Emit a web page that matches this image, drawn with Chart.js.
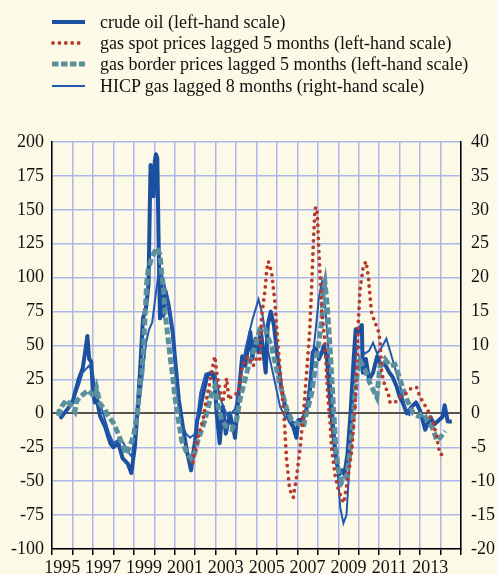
<!DOCTYPE html>
<html>
<head>
<meta charset="utf-8">
<script src="https://cdn.jsdelivr.net/npm/chart.js@4"></script>
<style>
  body { margin: 0; background: #fdf9e7; }
  #wrap { position: relative; width: 497px; height: 574px; }
  #chart { position: absolute; left: 0; top: 0; }
  .row { position: absolute; left: 51px; height: 20px; white-space: nowrap;
         font-family: 'Liberation Serif', serif; font-size: 18px; color: #111; }
  .row svg { position: absolute; left: 0; top: 0; }
  .row span { position: absolute; left: 49px; top: 0; line-height: 20px; }
</style>
</head>
<body>
<div id="wrap">
  <canvas id="chart" width="497" height="574"></canvas>
  <div class="row" style="top:12px">
    <svg width="36" height="20"><line x1="1" y1="10" x2="34" y2="10" stroke="#1b4f9f" stroke-width="4"/></svg>
    <span>crude oil (left-hand scale)</span>
  </div>
  <div class="row" style="top:33px">
    <svg width="36" height="20"><line x1="2" y1="10" x2="34" y2="10" stroke="#b83a2e" stroke-width="3.8" stroke-linecap="round" stroke-dasharray="0 6.4"/></svg>
    <span>gas spot prices lagged 5 months (left-hand scale)</span>
  </div>
  <div class="row" style="top:54px">
    <svg width="36" height="20"><line x1="1" y1="10" x2="34" y2="10" stroke="#5a8f9e" stroke-width="5" stroke-dasharray="6.5 2.5"/></svg>
    <span>gas border prices lagged 5 months (left-hand scale)</span>
  </div>
  <div class="row" style="top:76px">
    <svg width="36" height="20"><line x1="1" y1="10" x2="34" y2="10" stroke="#2158b0" stroke-width="2"/></svg>
    <span>HICP gas lagged 8 months (right-hand scale)</span>
  </div>
</div>
<script>
// --- DATOS (año decimal / variación) ---

const crudeX = [1995.31, 1995.45, 1995.70, 1996.00, 1996.30, 1996.50, 1996.62, 1996.73, 1996.82, 1996.92,
  1997.00, 1997.10, 1997.20, 1997.35, 1997.60, 1997.85, 1998.00, 1998.25, 1998.45, 1998.70,
  1998.88, 1999.05, 1999.15, 1999.30, 1999.45, 1999.60, 1999.72, 1999.78, 1999.82, 1999.87,
  1999.92, 1999.97, 2000.02, 2000.08, 2000.15, 2000.22, 2000.28, 2000.35, 2000.45, 2000.55,
  2000.70, 2000.90, 2001.05, 2001.20, 2001.40, 2001.60, 2001.80, 2001.90, 2002.00, 2002.10,
  2002.20, 2002.40, 2002.60, 2002.80, 2002.95, 2003.05, 2003.20, 2003.35, 2003.50, 2003.70,
  2003.85, 2003.95, 2004.10, 2004.30, 2004.45, 2004.60, 2004.70, 2004.80, 2004.95, 2005.10,
  2005.20, 2005.30, 2005.45, 2005.55, 2005.70, 2005.85, 2006.00, 2006.20, 2006.40, 2006.60,
  2006.80, 2006.95, 2007.05, 2007.20, 2007.40, 2007.60, 2007.75, 2007.90, 2008.05, 2008.20,
  2008.30, 2008.45, 2008.60, 2008.75, 2008.90, 2009.05, 2009.20, 2009.30, 2009.45, 2009.60,
  2009.75, 2009.85, 2010.00, 2010.15, 2010.20, 2010.35, 2010.50, 2010.70, 2010.90, 2011.10,
  2011.25, 2011.50, 2011.65, 2011.85, 2012.00, 2012.15, 2012.35, 2012.60, 2012.80, 2013.00,
  2013.25, 2013.50, 2013.70, 2013.85, 2014.10, 2014.20, 2014.35, 2014.55];
const crudeY = [3, -3, 2, 8, 25, 33, 45, 57, 40, 38,
  15, 8, 10, -2, -10, -22, -25, -22, -33, -37,
  -44, -25, -5, 30, 70, 78, 95, 150, 183, 180,
  175, 160, 185, 191, 188, 120, 70, 95, 72, 90,
  80, 60, 35, 10, -10, -28, -42, -30, -20, -5,
  0, 15, 28, 30, 25, 0, -22, 5, -15, 0,
  -10, -18, 10, 42, 35, 50, 60, 40, 55, 45,
  62, 50, 30, 65, 75, 65, 45, 20, 5, -5,
  -10, -18, -5, -5, 0, 15, 45, 48, 40, 45,
  50, 40, 10, -15, -35, -45, -42, -45, -30, 0,
  40, 62, 60, 65, 30, 40, 25, 30, 42, 35,
  37, 30, 27, 20, 12, 8, 0, 5, 8, 2,
  -12, -3, -8, -6, -2.5, 6, -6, -6];

const spotX = [2001.89, 2001.99, 2002.09, 2002.24, 2002.38, 2002.55, 2002.75, 2002.90, 2002.97, 2003.05,
  2003.21, 2003.35, 2003.54, 2003.65, 2003.79, 2003.95, 2004.11, 2004.28, 2004.44, 2004.60,
  2004.84, 2005.05, 2005.17, 2005.25, 2005.33, 2005.42, 2005.50, 2005.58, 2005.74, 2005.90,
  2006.04, 2006.21, 2006.37, 2006.46, 2006.62, 2006.80, 2006.97, 2007.12, 2007.29, 2007.45,
  2007.60, 2007.70, 2007.78, 2007.86, 2007.95, 2008.00, 2008.04, 2008.10, 2008.19, 2008.35,
  2008.43, 2008.51, 2008.60, 2008.68, 2008.85, 2009.00, 2009.17, 2009.27, 2009.49, 2009.66,
  2009.82, 2009.90, 2009.98, 2010.06, 2010.22, 2010.35, 2010.47, 2010.55, 2010.63, 2010.79,
  2010.94, 2011.04, 2011.12, 2011.28, 2011.44, 2011.53, 2011.77, 2012.02, 2012.34, 2012.59,
  2012.83, 2013.00, 2013.16, 2013.40, 2013.65, 2013.81, 2013.89, 2013.97, 2014.22];
const spotY = [-36, -28, -20, -12, -5, 10, 25, 38, 42, 30,
  17, 8, 26, 10, 13, 14, 15, 32, 40, 42,
  35, 42, 40, 71, 81, 91, 106, 112, 104, 82,
  52, 22, -7, -32, -56, -62, -46, -27, -2, 30,
  60, 95, 125, 151, 152, 138, 123, 105, 76, 52,
  27, 8, -7, -27, -46, -56, -63, -66, -46, -27,
  5, 35, 67, 91, 108, 112, 101, 86, 74, 67,
  62, 54, 30, 20, 15, 8, 8, 12, 15, 19,
  19, 12, 8, 1.5, -7, -17, -24, -30, -31];

const borderX = [1995.31, 1995.47, 1995.72, 1995.96, 1996.12, 1996.21, 1996.37, 1996.61, 1996.78, 1996.95,
  1997.10, 1997.19, 1997.35, 1997.59, 1997.75, 1998.00, 1998.24, 1998.41, 1998.57, 1998.65,
  1998.81, 1998.98, 1999.18, 1999.30, 1999.39, 1999.46, 1999.55, 1999.63, 1999.71, 1999.88,
  2000.12, 2000.28, 2000.36, 2000.44, 2000.53, 2000.64, 2000.77, 2000.90, 2001.01, 2001.18,
  2001.26, 2001.34, 2001.59, 2001.83, 2001.99, 2002.15, 2002.32, 2002.48, 2002.64, 2002.81,
  2002.97, 2003.13, 2003.30, 2003.54, 2003.79, 2004.03, 2004.19, 2004.44, 2004.70, 2004.93,
  2005.17, 2005.42, 2005.74, 2005.99, 2006.23, 2006.48, 2006.72, 2006.97, 2007.29, 2007.53,
  2007.70, 2007.86, 2008.02, 2008.19, 2008.27, 2008.35, 2008.46, 2008.56, 2008.68, 2008.76,
  2008.89, 2009.00, 2009.17, 2009.41, 2009.57, 2009.73, 2009.90, 2010.06, 2010.31, 2010.55,
  2010.88, 2011.04, 2011.28, 2011.53, 2011.77, 2012.02, 2012.18, 2012.42, 2012.67, 2012.91,
  2013.16, 2013.40, 2013.65, 2013.81, 2013.97, 2014.22];
const borderY = [-2, 5, 10, 5, 1.5, 9, 12, 15, 17, 14,
  12, 18, 7, 2.6, -2, -7, -15, -22, -28, -30,
  -24, -17, 0, 20, 29, 45, 71, 96, 106, 115,
  122, 117, 104, 94, 74, 60, 42, 28, 12, -5,
  -12, -20, -29, -34, -29, -19, -12, -5, 5, 15,
  20, 5, -5, -10, -12, -5, 10, 25, 40, 49,
  62, 62, 49, 32, 17, 3, -5, -7, -10, 5,
  15, 32, 50, 67, 90, 96, 79, 57, 27, 5,
  -27, -41, -51, -46, -29, -2, 27, 39, 32, 22,
  12, 35, 40, 35, 36, 25, 17, 8, 0, -2,
  0, -6, -12, -20, -18, -13];

// HICP gas en escala derecha (%)
const hicpX = [1995.30, 1995.50, 1995.80, 1996.00, 1996.30, 1996.50, 1996.80, 1997.00, 1997.10, 1997.25,
  1997.40, 1997.60, 1997.80, 1998.00, 1998.30, 1998.50, 1998.70, 1998.90, 1999.05, 1999.15,
  1999.30, 1999.45, 1999.60, 1999.75, 1999.90, 2000.05, 2000.20, 2000.35, 2000.50, 2000.70,
  2000.85, 2001.05, 2001.20, 2001.35, 2001.55, 2001.75, 2002.00, 2002.25, 2002.50, 2002.85,
  2003.00, 2003.20, 2003.60, 2003.95, 2004.20, 2004.45, 2004.80, 2005.10, 2005.30, 2005.55,
  2005.90, 2006.15, 2006.40, 2006.65, 2007.00, 2007.30, 2007.45, 2007.65, 2007.85, 2008.05,
  2008.20, 2008.35, 2008.50, 2008.70, 2008.90, 2009.10, 2009.25, 2009.40, 2009.50, 2009.65,
  2009.75, 2009.90, 2010.10, 2010.30, 2010.50, 2010.70, 2010.90, 2011.10, 2011.35, 2011.55,
  2011.80, 2012.00, 2012.25, 2012.50];
const hicpY = [0.4, -0.4, 0.6, 1.6, 4, 6, 7, 6, 4, 2,
  1, -1, -3, -4.4, -3.8, -4.4, -5.6, -6.4, -3, -1,
  2, 6, 10.4, 12.4, 13.4, 17, 20.4, 20.8, 19, 16.4,
  12.4, 6.4, 1, -1.6, -3, -3.6, -3, 3, 5.8, 6.2,
  5.6, 2.4, -0.6, 0.6, 4.6, 9.4, 13.8, 16.8, 14.4, 9.4,
  4.6, 1, -0.6, -1, -1.6, -1.4, 1, 6, 11, 17,
  19.4, 16, 10, 2, -6, -14, -16.2, -15, -10, -2,
  4, 10, 9.6, 8.8, 9.2, 10.4, 8.8, 9.6, 11, 9,
  6.4, 4.4, 1, -0.4];

const years = [];
for (let y = 1995; y <= 2015; y++) years.push(y);
const yearLabels = ['1995', '1997', '1999', '2001', '2003', '2005', '2007', '2009', '2011', '2013'];

// --- GRÁFICO ---

const pts = (xs, ys) => xs.map((x, i) => ({ x: x, y: ys[i] }));
const gridColor = 'rgb(172, 182, 232)';
const tickFont = { family: "'Liberation Serif', serif", size: 18 };

new Chart(document.getElementById('chart'), {
  type: 'line',
  data: {
    datasets: [
      {
        label: 'gas spot prices lagged 5 months (left-hand scale)',
        data: pts(spotX, spotY),
        borderColor: '#b83a2e',
        borderWidth: 3.8,
        borderDash: [0, 6.6],
        borderCapStyle: 'round',
        yAxisID: 'y',
        order: 1
      },
      {
        label: 'gas border prices lagged 5 months (left-hand scale)',
        data: pts(borderX, borderY),
        borderColor: '#5a8f9e',
        borderWidth: 5,
        borderDash: [7, 3],
        yAxisID: 'y',
        order: 2
      },
      {
        label: 'HICP gas lagged 8 months (right-hand scale)',
        data: pts(hicpX, hicpY),
        borderColor: '#2158b0',
        borderWidth: 2,
        yAxisID: 'y1',
        order: 3
      },
      {
        label: 'crude oil (left-hand scale)',
        data: pts(crudeX, crudeY),
        borderColor: '#1b4f9f',
        borderWidth: 4,
        borderJoinStyle: 'round',
        yAxisID: 'y',
        order: 4
      }
    ]
  },
  options: {
    responsive: false,
    animation: false,
    layout: { padding: { top: 142, left: 0, right: 0, bottom: 0 } },
    elements: { point: { radius: 0 }, line: { tension: 0 } },
    plugins: { legend: { display: false }, tooltip: { enabled: false } },
    scales: {
      x: {
        type: 'linear',
        min: 1995,
        max: 2015,
        afterBuildTicks: s => { s.ticks = years.map(v => ({ value: v })); },
        afterFit: s => { s.height = 25; },
        grid: { color: gridColor, lineWidth: 1.5, drawTicks: true, tickLength: 6, tickColor: '#000', tickWidth: 1.5 },
        border: { color: '#000', width: 1.5 },
        ticks: {
          autoSkip: false,
          maxRotation: 0,
          labelOffset: 10.2,
          padding: 2,
          font: tickFont,
          color: '#111',
          callback: v => yearLabels.includes(String(v)) ? String(v) : ''
        }
      },
      y: {
        position: 'left',
        min: -100,
        max: 200,
        afterFit: s => { s.width = 52; },
        grid: {
          color: c => c.tick.value === 0 ? '#555' : gridColor,
          lineWidth: c => c.tick.value === 0 ? 2 : 1.5,
          drawTicks: false
        },
        border: { color: '#000', width: 1.5 },
        ticks: { stepSize: 25, padding: 8, font: tickFont, color: '#111' }
      },
      y1: {
        position: 'right',
        min: -20,
        max: 40,
        afterFit: s => { s.width = 36; },
        grid: { drawOnChartArea: false, drawTicks: false },
        border: { color: '#000', width: 1.5 },
        ticks: { stepSize: 5, padding: 10, font: tickFont, color: '#111' }
      }
    }
  }
});
</script>
</body>
</html>
